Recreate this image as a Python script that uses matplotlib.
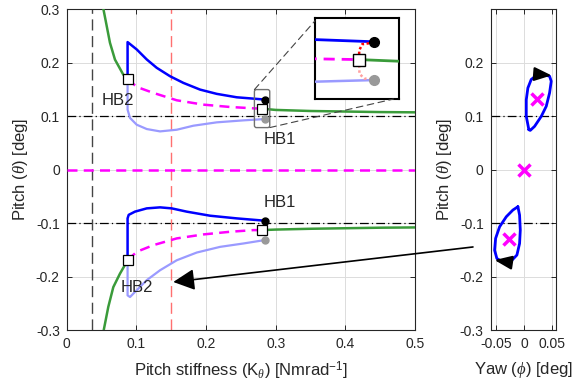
import matplotlib
matplotlib.use("Agg")
import matplotlib.pyplot as plt
from matplotlib.patches import FancyBboxPatch, ConnectionPatch

plt.rcParams['font.family'] = ['Liberation Sans', 'DejaVu Sans']
plt.rcParams['mathtext.fontset'] = 'custom'
plt.rcParams['mathtext.rm'] = 'Liberation Sans'
plt.rcParams['mathtext.it'] = 'Liberation Serif:italic'

# ---- bifurcation diagram data (pitch stiffness vs pitch) ----
green_up_x = [0.0526, 0.0574, 0.0621, 0.0693, 0.0812, 0.0874]
green_up_y = [0.301, 0.269, 0.2375, 0.206, 0.178, 0.170]
green_lo_x = [0.0526, 0.0597, 0.0669, 0.0764, 0.0874]
green_lo_y = [-0.303, -0.256, -0.219, -0.194, -0.169]
green_r_x = [0.280, 0.30, 0.35, 0.40, 0.45, 0.50]
green_ru_y = [0.1144, 0.112, 0.110, 0.109, 0.108, 0.1075]
green_rl_y = [-0.1125, -0.1115, -0.110, -0.109, -0.108, -0.1075]

blue_up_x = [0.0874, 0.0874, 0.1005, 0.1149, 0.1292, 0.1483, 0.1675, 0.1914, 0.2154, 0.2441,
             0.2680, 0.2848]
blue_up_y = [0.170, 0.2387, 0.225, 0.2063, 0.1907, 0.175, 0.1625, 0.150, 0.142, 0.1356,
             0.1331, 0.1313]
lblue_up_x = [0.0874, 0.0874, 0.0909, 0.1005, 0.1149, 0.1340, 0.1580, 0.1818, 0.2154, 0.2536,
              0.2848]
lblue_up_y = [0.170, 0.1125, 0.097, 0.0844, 0.0763, 0.0719, 0.075, 0.0825, 0.0888, 0.0925,
              0.095]
mag_up_x = [0.0874, 0.1005, 0.1244, 0.1580, 0.1960, 0.2345, 0.2680, 0.2800]
mag_up_y = [0.170, 0.155, 0.1438, 0.130, 0.1219, 0.1175, 0.115, 0.1144]

blue_lo_x = [0.0874, 0.0874, 0.0890, 0.0980, 0.1149, 0.1340, 0.1508, 0.1723, 0.2058, 0.2441,
             0.2848]
blue_lo_y = [-0.1688, -0.0906, -0.0840, -0.078, -0.0719, -0.070, -0.0719, -0.078, -0.0856,
             -0.0906, -0.095]
lblue_lo_x = [0.0874, 0.0874, 0.0909, 0.0980, 0.1149, 0.1340, 0.1580, 0.1867, 0.2202, 0.2536,
              0.2848]
lblue_lo_y = [-0.1688, -0.2344, -0.2375, -0.228, -0.206, -0.1875, -0.1688, -0.1544, -0.1438,
              -0.1375, -0.131]
mag_lo_x = [0.0874, 0.1005, 0.1244, 0.1580, 0.1960, 0.2345, 0.2680, 0.2800]
mag_lo_y = [-0.1688, -0.153, -0.1406, -0.128, -0.1206, -0.1156, -0.1125, -0.1125]

hb2_x = [0.0874, 0.0874]
hb2_y = [0.170, -0.1688]
hb1_x = [0.280, 0.280]
hb1_y = [0.1144, -0.1125]
peak_x = [0.2848, 0.2848]
peak_y = [0.1313, -0.095]
trough_x = [0.2848, 0.2848]
trough_y = [0.095, -0.131]

k_limit = 0.036
k_selected = 0.15

# orbit amplitude growth near HB1 (shown in the magnified view)
red_hi_x = [0.2848, 0.2810, 0.2800, 0.2800]
red_hi_y = [0.1305, 0.1290, 0.1230, 0.1180]
red_lo_x = [0.2800, 0.2801, 0.2816, 0.2848]
red_lo_y = [0.1090, 0.1010, 0.0965, 0.0955]

# ---- phase portrait data (yaw vs pitch) ----
loop_up_x = [0.0090, 0.0043, 0.0043, 0.0072, 0.0133, 0.0224, 0.0343, 0.0464, 0.0494, 0.0464,
             0.0404, 0.0314, 0.0193, 0.0115, 0.0090]
loop_up_y = [0.075, 0.100, 0.131, 0.153, 0.169, 0.176, 0.1781, 0.175, 0.1656, 0.1438,
             0.1188, 0.100, 0.0813, 0.0738, 0.075]
loop_lo_x = [-0.0108, -0.0199, -0.0318, -0.0439, -0.0511, -0.0529, -0.0488, -0.0380, -0.0228,
             -0.0126, -0.0078, -0.0065, -0.0078, -0.0108]
loop_lo_y = [-0.0688, -0.075, -0.0875, -0.1063, -0.128, -0.150, -0.1656, -0.172, -0.170,
             -0.159, -0.1375, -0.1125, -0.0844, -0.0688]
eq_x = [0.0235, 0.0, -0.027]
eq_y = [0.133, 0.0, -0.1294]

xticks_main = [0, 0.1, 0.2, 0.3, 0.4, 0.5]
xticklabels_main = ['0', '0.1', '0.2', '0.3', '0.4', '0.5']
yticks = [-0.3, -0.2, -0.1, 0, 0.1, 0.2, 0.3]
yticklabels = ['-0.3', '-0.2', '-0.1', '0', '0.1', '0.2', '0.3']
xticks_r = [-0.05, 0, 0.05]
xticklabels_r = ['-0.05', '0', '0.05']

BLUE = '#0000ff'
LBLUE = '#9a9aff'
GREEN = '#3a9b3a'
MAG = '#ff00ff'
AX_COL = '#262626'

fig = plt.figure(figsize=(5.77, 3.90), dpi=100)
ax = fig.add_axes([0.1156, 0.1526, 0.6036, 0.8236])
axr = fig.add_axes([0.8504, 0.1526, 0.1132, 0.8236])


def style_axes(a):
    a.grid(True, color='#dcdcdc', lw=0.7)
    a.set_axisbelow(True)
    a.tick_params(direction='in', top=True, right=True, length=3.5, width=0.7,
                  colors=AX_COL, labelsize=10, pad=5)
    for s in a.spines.values():
        s.set_color(AX_COL)
        s.set_linewidth(0.8)


style_axes(ax)
style_axes(axr)

ax.set_xlim(0, 0.5)
ax.set_ylim(-0.3, 0.3)
ax.set_xticks(xticks_main)
ax.set_xticklabels(xticklabels_main)
ax.set_yticks(yticks)
ax.set_yticklabels(yticklabels)

dashdot = (0, (7, 2.5, 1, 2.5))
for yv in (0.1, -0.1):
    ax.axhline(yv, color='k', lw=0.9, ls=dashdot, zorder=2)
ax.axvline(k_limit, color='#444444', lw=1.0, ls=(0, (8, 4)), zorder=2)
ax.axvline(k_selected, color='#ff7070', lw=1.0, ls=(0, (8, 4)), zorder=2)
ax.axhline(0, color=MAG, lw=1.8, ls=(0, (4, 2.5)), zorder=3)

line_kw = dict(solid_joinstyle='round', solid_capstyle='round')
ax.plot(green_up_x, green_up_y, color=GREEN, lw=1.8, zorder=4, **line_kw)
ax.plot(green_lo_x, green_lo_y, color=GREEN, lw=1.8, zorder=4, **line_kw)
ax.plot(green_r_x, green_ru_y, color=GREEN, lw=1.8, zorder=4, **line_kw)
ax.plot(green_r_x, green_rl_y, color=GREEN, lw=1.8, zorder=4, **line_kw)
ax.plot(lblue_up_x, lblue_up_y, color=LBLUE, lw=1.6, zorder=4, **line_kw)
ax.plot(lblue_lo_x, lblue_lo_y, color=LBLUE, lw=1.6, zorder=4, **line_kw)
ax.plot(blue_up_x, blue_up_y, color=BLUE, lw=1.8, zorder=5, **line_kw)
ax.plot(blue_lo_x, blue_lo_y, color=BLUE, lw=1.8, zorder=5, **line_kw)
ax.plot(mag_up_x, mag_up_y, color=MAG, lw=1.8, ls=(0, (4, 2.5)), zorder=4)
ax.plot(mag_lo_x, mag_lo_y, color=MAG, lw=1.8, ls=(0, (4, 2.5)), zorder=4)

ax.plot(peak_x, peak_y, 'o', color='k', ms=5, zorder=6)
ax.plot(trough_x, trough_y, 'o', color='#999999', ms=5, zorder=6)
ax.plot(hb2_x, hb2_y, 's', mfc='white', mec='k', ms=7.5, mew=0.9, zorder=7)
ax.plot(hb1_x, hb1_y, 's', mfc='white', mec='k', ms=7.5, mew=0.9, zorder=7)

ax.text(0.074, 0.130, 'HB2', fontsize=12, color='#262626', ha='center', va='center', zorder=8)
ax.text(0.101, -0.219, 'HB2', fontsize=12, color='#262626', ha='center', va='center', zorder=8)
ax.text(0.306, 0.056, 'HB1', fontsize=12, color='#262626', ha='center', va='center', zorder=8)
ax.text(0.306, -0.060, 'HB1', fontsize=12, color='#262626', ha='center', va='center', zorder=8)

# magnified window around HB1
zx0, zx1, zy0, zy1 = 0.2695, 0.2915, 0.079, 0.150
ax.add_patch(FancyBboxPatch((zx0, zy0), zx1 - zx0, zy1 - zy0,
                            boxstyle='round,pad=0,rounding_size=0.003',
                            mutation_aspect=1.3, fc='none', ec='#707070', lw=1.0, zorder=9))

ax.set_xlabel(r'Pitch stiffness (K$_\theta$) [Nmrad$^{\mathregular{-1}}$]', fontsize=12,
              color=AX_COL, labelpad=6)
ax.set_ylabel(r'Pitch ($\theta$) [deg]', fontsize=12, color=AX_COL, labelpad=4)

axin = fig.add_axes([0.546, 0.746, 0.146, 0.207])
axin.set_xlim(0.2657, 0.2930)
axin.set_ylim(0.0770, 0.1535)
axin.set_xticks([])
axin.set_yticks([])
for s in axin.spines.values():
    s.set_linewidth(1.5)
    s.set_color('k')
axin.plot(blue_up_x, blue_up_y, color=BLUE, lw=2.0, zorder=4)
axin.plot(lblue_up_x, lblue_up_y, color=LBLUE, lw=1.8, zorder=4)
axin.plot(mag_up_x, mag_up_y, color=MAG, lw=2.0, ls=(0, (4, 2.5)), zorder=4)
axin.plot(green_r_x, green_ru_y, color=GREEN, lw=2.0, zorder=4)
axin.plot(red_hi_x, red_hi_y, color='#ff0000', lw=1.8, ls=(0, (1, 1)), zorder=5)
axin.plot(red_lo_x, red_lo_y, color='#ffa0a0', lw=1.8, ls=(0, (1, 1)), zorder=5)
axin.plot(peak_x[:1], peak_y[:1], 'o', color='k', ms=7, zorder=6)
axin.plot(trough_x[:1], trough_y[:1], 'o', color='#999999', ms=7, zorder=6)
axin.plot(hb1_x[:1], hb1_y[:1], 's', mfc='white', mec='k', ms=8, mew=1.0, zorder=7)

for (xa, ya), (xb, yb) in (((zx0, zy1), (0.0, 0.97)), ((zx1, zy0), (0.93, 0.0))):
    con = ConnectionPatch(xyA=(xa, ya), coordsA=ax.transData, xyB=(xb, yb),
                          coordsB=axin.transAxes, color='#444444', lw=0.8,
                          ls=(0, (6, 4)), zorder=3)
    fig.add_artist(con)

# phase portrait
axr.set_xlim(-0.06, 0.058)
axr.set_ylim(-0.3, 0.3)
axr.set_xticks(xticks_r)
axr.set_xticklabels(xticklabels_r)
axr.set_yticks(yticks[:-1])
axr.set_yticklabels(yticklabels[:-1])
for yv in (0.1, -0.1):
    axr.axhline(yv, color='k', lw=0.9, ls=dashdot, zorder=2)
axr.plot(loop_up_x, loop_up_y, color=BLUE, lw=2.0, zorder=4, **line_kw)
axr.plot(loop_lo_x, loop_lo_y, color=BLUE, lw=2.0, zorder=4, **line_kw)
head = '-|>,head_length=0.8,head_width=0.32'
axr.annotate('', xy=(0.0500, 0.1765), xytext=(0.0300, 0.1781),
             arrowprops=dict(arrowstyle=head, color='k', lw=1.6, mutation_scale=13,
                             shrinkA=0, shrinkB=0), zorder=5)
axr.annotate('', xy=(-0.0529, -0.1685), xytext=(-0.0300, -0.1720),
             arrowprops=dict(arrowstyle=head, color='k', lw=1.6, mutation_scale=13,
                             shrinkA=0, shrinkB=0), zorder=5)
axr.plot(eq_x, eq_y, 'x', color=MAG, ms=8, mew=2.5, zorder=6)
axr.set_xlabel(r'Yaw ($\phi$) [deg]', fontsize=12, color=AX_COL, labelpad=6)
axr.set_ylabel(r'Pitch ($\theta$) [deg]', fontsize=12, color=AX_COL, labelpad=4)

arrow = ConnectionPatch(xyA=(-0.092, -0.144), coordsA=axr.transData,
                        xyB=(0.153, -0.2094), coordsB=ax.transData,
                        arrowstyle='-|>,head_length=0.5,head_width=0.25', mutation_scale=26,
                        color='k', lw=1.2, zorder=10)
fig.add_artist(arrow)

fig.savefig('out.png', dpi=100)
